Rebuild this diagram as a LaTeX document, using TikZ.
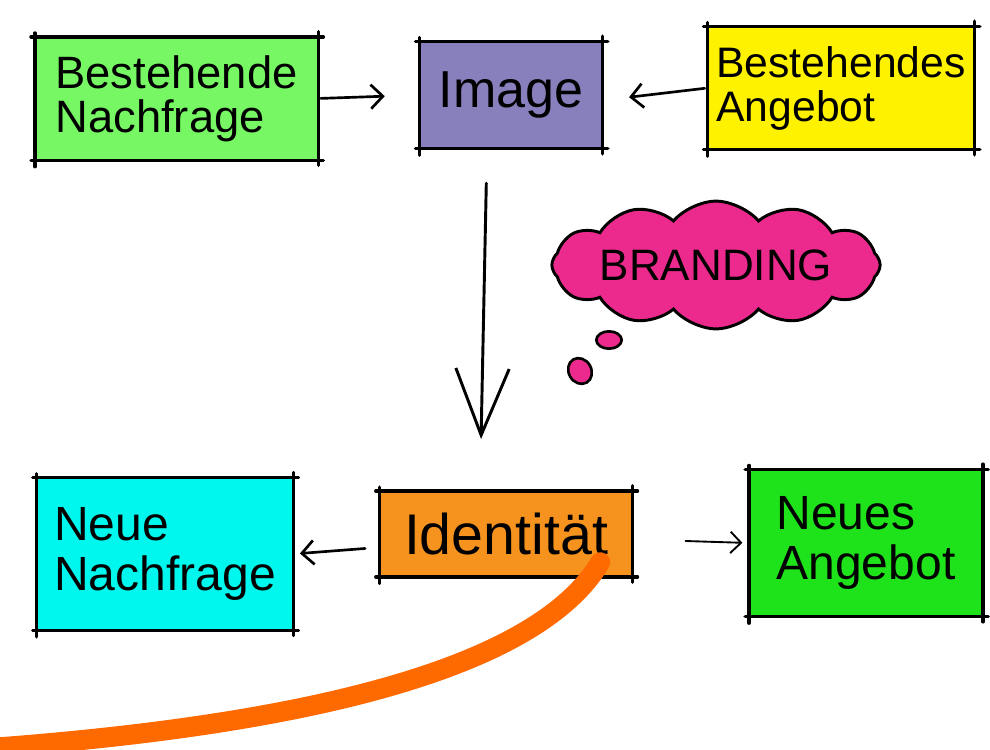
\documentclass[tikz,border=0pt]{standalone}
\usepackage{fontspec}
\setmainfont{Liberation Sans}
\usetikzlibrary{arrows.meta,shapes.symbols,shapes.geometric,backgrounds}
\definecolor{cGreenA}{HTML}{76F763}
\definecolor{cPurple}{HTML}{8780BD}
\definecolor{cYellow}{HTML}{FFF200}
\definecolor{cCyan}{HTML}{00F7EE}
\definecolor{cOrange}{HTML}{F6931E}
\definecolor{cGreenB}{HTML}{1EE21A}
\definecolor{cPink}{HTML}{EC2A8D}
\definecolor{cCurve}{HTML}{FF6A00}
\tikzset{
  boxnode/.style={rectangle, inner sep=0pt, align=left},
  skline/.style={black, line width=2.4pt, line cap=round},
  skarrow/.style={black, line width=2pt, line cap=round, -{Straight Barb[length=9pt,width=18pt,line width=2pt]}},
}
\newcommand{\sketchbox}[1]{%
  \draw[skline] ([xshift=-3pt]#1.north west) -- ([xshift=4pt]#1.north east);
  \draw[skline] ([xshift=-3pt]#1.south west) -- ([xshift=4pt]#1.south east);
  \draw[skline] ([yshift=3pt]#1.north west) -- ([yshift=-5pt]#1.south west);
  \draw[skline] ([yshift=4pt]#1.north east) -- ([yshift=-4pt]#1.south east);
}
\begin{document}
\begin{tikzpicture}[x=0.75pt,y=-0.75pt]
\useasboundingbox[fill=white] (0,0) rectangle (990,750);

% boxes
\node[boxnode, fill=cGreenA, minimum width=212pt, minimum height=92pt,
  font=\fontsize{34}{33}\selectfont] (bn) at (176.5,98.5) {Bestehende\\Nachfrage};
\node[boxnode, fill=cPurple, minimum width=137pt, minimum height=80pt,
  font=\fontsize{39}{39}\selectfont] (img) at (511,95) {Image};
\node[boxnode, fill=cYellow, minimum width=200pt, minimum height=92pt,
  font=\fontsize{32}{33}\selectfont] (ba) at (841,88) {Bestehendes\\Angebot};
\node[boxnode, fill=cCyan, minimum width=192pt, minimum height=114pt,
  font=\fontsize{36}{38}\selectfont] (nn) at (165,554) {Neue\\Nachfrage};
\node[boxnode, fill=cOrange, minimum width=189pt, minimum height=64pt,
  font=\fontsize{43}{43}\selectfont] (id) at (506,534) {Identität};
\node[boxnode, fill=cGreenB, minimum width=175pt, minimum height=110pt,
  font=\fontsize{36}{38}\selectfont] (na) at (866,543) {Neues\\Angebot};

\begin{scope}[on background layer]
  \fill[cGreenA] ([shift={(-4pt,-5pt)}]bn.south west) rectangle ([shift={(3pt,3pt)}]bn.north east);
  \fill[cPurple] ([shift={(-3pt,-4pt)}]img.south west) rectangle ([shift={(2pt,4pt)}]img.north east);
  \fill[cYellow] ([shift={(-5pt,-4pt)}]ba.south west) rectangle ([shift={(10pt,6pt)}]ba.north east);
  \fill[cCyan] ([shift={(-2pt,-3pt)}]nn.south west) rectangle ([shift={(2pt,2pt)}]nn.north east);
  \fill[cOrange] ([shift={(-4pt,-5pt)}]id.south west) rectangle ([shift={(3pt,5pt)}]id.north east);
  \fill[cGreenB] ([shift={(-5pt,-3pt)}]na.south west) rectangle ([shift={(2pt,2pt)}]na.north east);
\end{scope}

\sketchbox{bn}
\sketchbox{img}
\sketchbox{ba}
\sketchbox{nn}
\sketchbox{id}
\sketchbox{na}

% cloud
\node[cloud, cloud puffs=12, cloud puff arc=100, aspect=3.6, fill=cPink, draw=black,
  line width=2.2pt, minimum width=240pt, minimum height=62pt, inner sep=0pt,
  font=\fontsize{33}{33}\selectfont] (brand) at (716,265) {BRANDING};
\node[ellipse, fill=cPink, draw=black, line width=2pt, minimum width=19pt,
  minimum height=13pt, inner sep=0pt] (bub1) at (609,340) {};
\node[ellipse, fill=cPink, draw=black, line width=2pt, minimum width=17pt,
  minimum height=20pt, inner sep=0pt, rotate=30] (bub2) at (580,371) {};

% arrows
\draw[skarrow, shorten <=2pt, shorten >=26pt] (bn.east) -- (img.west);
\draw[skarrow, shorten <=2pt, shorten >=20pt] (ba.west) -- ([yshift=-4pt]img.east);
\draw[black, line width=2.2pt, line cap=round,
  -{Straight Barb[length=50pt,width=40pt,line width=2.2pt]},
  shorten <=26pt, shorten >=39pt] ([xshift=-18pt]img.south) -- ([xshift=-19.5pt]id.north);
\draw[skarrow, shorten <=11pt, shorten >=5pt] ([yshift=-10pt]id.west) -- (nn.east);
\draw[black, line width=1.4pt, line cap=round,
  -{Straight Barb[length=8pt,width=16pt,line width=1.4pt]},
  shorten <=40pt, shorten >=5pt] ([yshift=-4pt]id.east) -- (na.west);

% orange curve
\coordinate (cend) at (-10,748);
\draw[cCurve, line width=15pt, line cap=round]
  ([shift={(-24pt,11pt)}]id.south east) .. controls (530,680) and (260,728) .. (cend);
\end{tikzpicture}
\end{document}
